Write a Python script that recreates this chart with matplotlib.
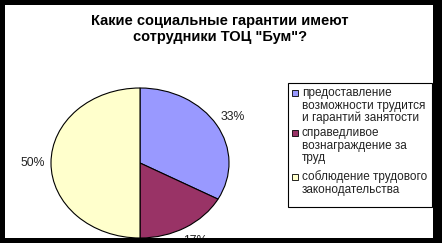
import matplotlib.pyplot as plt
from matplotlib.patches import Rectangle

plt.rcParams['font.family'] = ['Liberation Sans', 'DejaVu Sans']

title = 'Какие социальные гарантии имеют\nсотрудники ТОЦ "Бум"?'
labels = [
    'предоставление\nвозможности трудится\nи гарантий занятости',
    'справедливое\nвознаграждение за\nтруд',
    'соблюдение трудового\nзаконодательства',
]
shares = [33, 17, 50]
colors = ['#9999FF', '#993366', '#FFFFCC']

W, H = 442, 243
fig = plt.figure(figsize=(W / 100, H / 100), dpi=100, facecolor='white')

# pie: ellipse centred at (140, 163) px, rx 89, ry 75
cx, cy, rx, ry = 140, 163, 89, 75
ax = fig.add_axes([(cx - rx) / W, (H - cy - ry) / H, 2 * rx / W, 2 * ry / H])
wedges, texts, autotexts = ax.pie(
    shares, colors=colors, startangle=90, counterclock=False,
    autopct='%1.0f%%', pctdistance=1.21,
    wedgeprops=dict(edgecolor='black', linewidth=0.8),
    textprops=dict(fontsize=8.8, color='#222222'))
ax.set_aspect('auto')
ax.set_xlim(-1, 1)
ax.set_ylim(-1, 1)
ax.axis('off')

# overlay in pixel coordinates for title, legend and frame
ov = fig.add_axes([0, 0, 1, 1], zorder=5)
ov.set_xlim(0, W)
ov.set_ylim(H, 0)
ov.axis('off')
ov.patch.set_alpha(0)

ov.text(220, 29, title, ha='center', va='center', fontsize=10.5,
        fontweight='bold', linespacing=1.25)

# legend
ov.add_patch(Rectangle((288, 83), 144, 124, facecolor='white',
                       edgecolor='black', linewidth=0.8))
entry_tops = [93, 133, 177]
for lab, col, y in zip(labels, colors, entry_tops):
    ov.add_patch(Rectangle((292, y - 3), 5.5, 5.5, facecolor=col,
                           edgecolor='black', linewidth=0.6))
    for i, line in enumerate(lab.split('\n')):
        ov.text(302, y + i * 12.5, line, ha='left', va='center',
                fontsize=8.5, color='#222222')

# black frame around the chart area
for x0, y0, w, h in [(0, 0, W, 5), (0, 0, 5, H), (433, 0, W - 433, H), (0, 238, W, H - 238)]:
    ov.add_patch(Rectangle((x0, y0), w, h, facecolor='black',
                           edgecolor='none', zorder=10))

fig.savefig('out.png', dpi=100, facecolor='white')
